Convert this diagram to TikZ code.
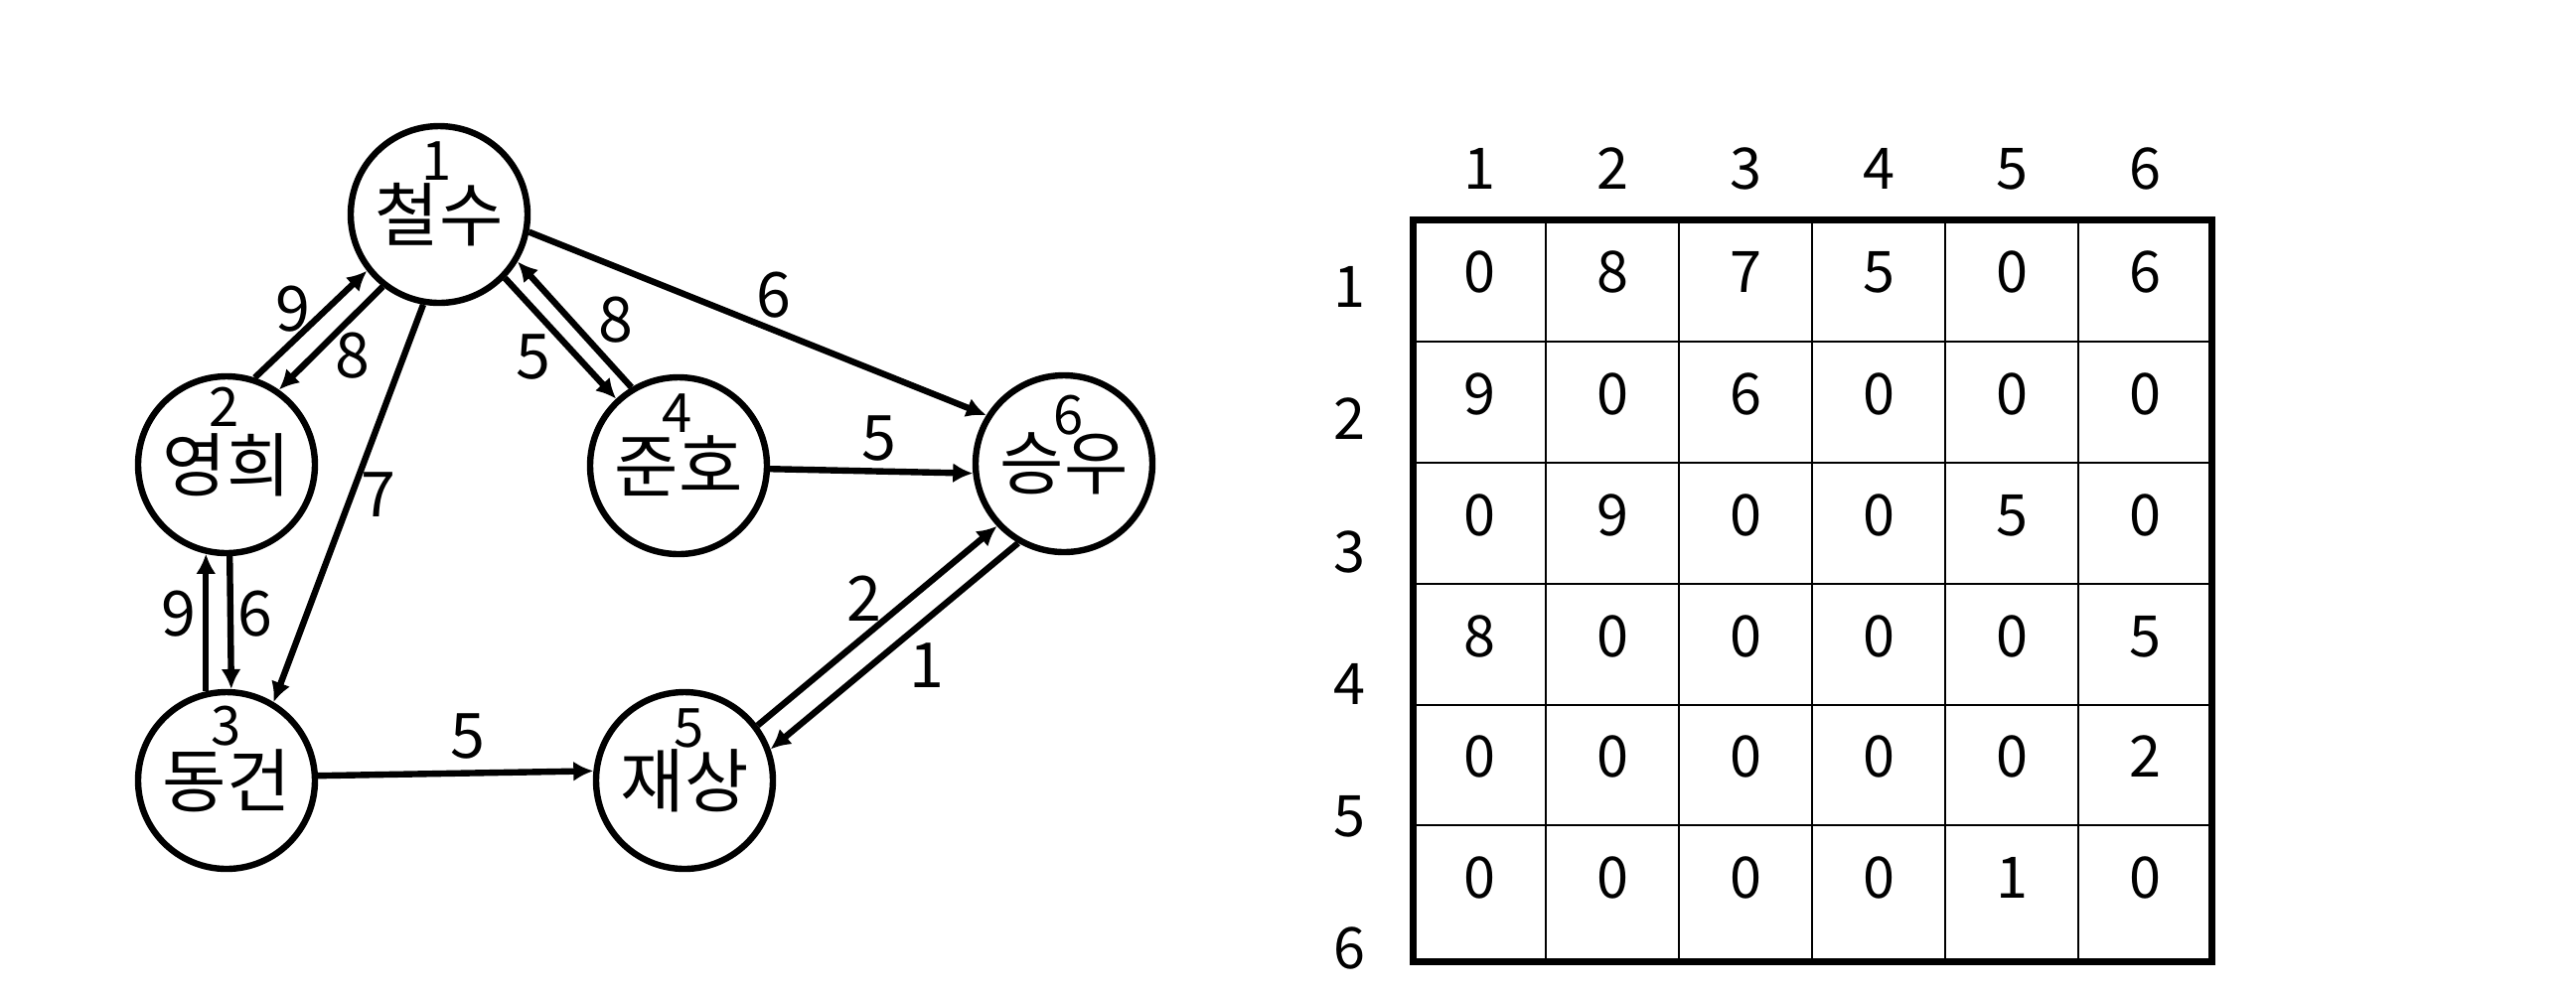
\documentclass[tikz,border=0pt]{standalone}
\usepackage{fontspec}
\setmainfont{Noto Sans CJK KR}
\usetikzlibrary{arrows.meta}

\begin{document}
\begin{tikzpicture}[x=0.25pt,y=-0.25pt,
  person/.style={draw=drawColor,circle,line width=1.6pt,minimum size=44.5pt,inner sep=0pt,font=\fontsize{17.5}{20}\selectfont},
  num/.style={text=drawColor,inner sep=0pt,font=\fontsize{13.6}{16}\selectfont},
  link/.style={draw=drawColor,line width=1.6pt,-{Latex[length=5pt,width=5pt]}},
  weight/.style={text=drawColor,inner sep=0pt,font=\fontsize{15.7}{18}\selectfont},
  cell/.style={text=drawColor,inner sep=0pt,font=\fontsize{14.4}{17}\selectfont}]
\definecolor{fillColor}{RGB}{255,255,255}
\definecolor{drawColor}{RGB}{0,0,0}
\path[use as bounding box,fill=fillColor] (0,0) rectangle (2593,999);

% graph
\node[person] (v1) at ( 442,216) {철수};
\node[person] (v2) at ( 228,468) {영희};
\node[person] (v3) at ( 228,786) {동건};
\node[person] (v4) at ( 683,469) {준호};
\node[person] (v5) at ( 689,786) {재상};
\node[person] (v6) at (1071,467) {승우};

\node[num] (n1) at ( 440,162) {1};
\node[num] (n2) at ( 226,410) {2};
\node[num] (n3) at ( 228,731) {3};
\node[num] (n4) at ( 682,416) {4};
\node[num] (n5) at ( 694,733) {5};
\node[num] (n6) at (1076,418) {6};

\path[link] (v2.72) -- (v1.218);
\path[link] (v1.232) -- (v2.55);
\path[link] (v1.260) -- (v3.59);
\path[link] (v2.272) -- (v3.87);
\path[link] (v3.103) -- (v2.257);
\path[link] (v1.316) -- (v4.133);
\path[link] (v4.121) -- (v1.329);
\path[link] (v1.349) -- (v6.148);
\path[link] (v4.-2.5) -- (v6.186);
\path[link] (v3.3) -- (v5.174);
\path[link] (v5.37) -- (v6.223);
\path[link] (v6.240) -- (v5.20);

\node[weight] (w21) at ( 295,311) {9};
\node[weight] (w12) at ( 355,358) {8};
\node[weight] (w13) at ( 381,498) {7};
\node[weight] (w32) at ( 180,618) {9};
\node[weight] (w23) at ( 257,618) {6};
\node[weight] (w14) at ( 537,360) {5};
\node[weight] (w41) at ( 620,322) {8};
\node[weight] (w16) at ( 779,297) {6};
\node[weight] (w46) at ( 885,442) {5};
\node[weight] (w35) at ( 471,741) {5};
\node[weight] (w56) at ( 870,603) {2};
\node[weight] (w65) at ( 933,670) {1};

% adjacency matrix
\path[draw=drawColor,line width=0.5pt] (1556,221) -- (1556,968);
\path[draw=drawColor,line width=0.5pt] (1690,221) -- (1690,968);
\path[draw=drawColor,line width=0.5pt] (1824,221) -- (1824,968);
\path[draw=drawColor,line width=0.5pt] (1958,221) -- (1958,968);
\path[draw=drawColor,line width=0.5pt] (2092,221) -- (2092,968);
\path[draw=drawColor,line width=0.5pt] (1422,343.5) -- (2226,343.5);
\path[draw=drawColor,line width=0.5pt] (1422,466) -- (2226,466);
\path[draw=drawColor,line width=0.5pt] (1422,588) -- (2226,588);
\path[draw=drawColor,line width=0.5pt] (1422,709.5) -- (2226,709.5);
\path[draw=drawColor,line width=0.5pt] (1422,831) -- (2226,831);
\path[draw=drawColor,line width=1.75pt] (1422,221) rectangle (2226,968);

\node[cell] (h1) at (1489,170) {1};
\node[cell] (h2) at (1623,170) {2};
\node[cell] (h3) at (1757,170) {3};
\node[cell] (h4) at (1891,170) {4};
\node[cell] (h5) at (2025,170) {5};
\node[cell] (h6) at (2159,170) {6};

\node[cell] (r1) at (1358,289) {1};
\node[cell] (r2) at (1358,422) {2};
\node[cell] (r3) at (1358,556) {3};
\node[cell] (r4) at (1358,689) {4};
\node[cell] (r5) at (1358,822) {5};
\node[cell] (r6) at (1358,955) {6};

\node[cell] (m11) at (1489,274) {0};
\node[cell] (m12) at (1623,274) {8};
\node[cell] (m13) at (1757,274) {7};
\node[cell] (m14) at (1891,274) {5};
\node[cell] (m15) at (2025,274) {0};
\node[cell] (m16) at (2159,274) {6};

\node[cell] (m21) at (1489,397) {9};
\node[cell] (m22) at (1623,397) {0};
\node[cell] (m23) at (1757,397) {6};
\node[cell] (m24) at (1891,397) {0};
\node[cell] (m25) at (2025,397) {0};
\node[cell] (m26) at (2159,397) {0};

\node[cell] (m31) at (1489,519) {0};
\node[cell] (m32) at (1623,519) {9};
\node[cell] (m33) at (1757,519) {0};
\node[cell] (m34) at (1891,519) {0};
\node[cell] (m35) at (2025,519) {5};
\node[cell] (m36) at (2159,519) {0};

\node[cell] (m41) at (1489,641) {8};
\node[cell] (m42) at (1623,641) {0};
\node[cell] (m43) at (1757,641) {0};
\node[cell] (m44) at (1891,641) {0};
\node[cell] (m45) at (2025,641) {0};
\node[cell] (m46) at (2159,641) {5};

\node[cell] (m51) at (1489,762) {0};
\node[cell] (m52) at (1623,762) {0};
\node[cell] (m53) at (1757,762) {0};
\node[cell] (m54) at (1891,762) {0};
\node[cell] (m55) at (2025,762) {0};
\node[cell] (m56) at (2159,762) {2};

\node[cell] (m61) at (1489,884) {0};
\node[cell] (m62) at (1623,884) {0};
\node[cell] (m63) at (1757,884) {0};
\node[cell] (m64) at (1891,884) {0};
\node[cell] (m65) at (2025,884) {1};
\node[cell] (m66) at (2159,884) {0};
\end{tikzpicture}
\end{document}
